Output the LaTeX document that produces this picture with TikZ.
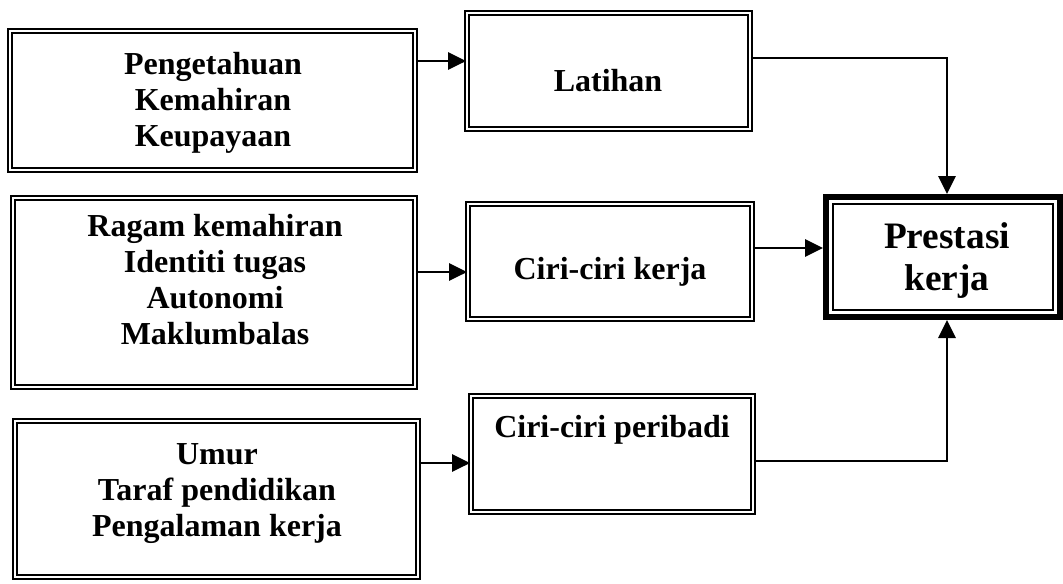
\documentclass[tikz,border=0pt]{standalone}
\usepackage{fontspec}
\setmainfont{Liberation Serif}
\usetikzlibrary{arrows.meta}
\begin{document}
\begin{tikzpicture}[x=0.75pt,y=-0.75pt,
  dbox/.style={draw, double, line width=1.4pt, double distance=1.5pt, inner sep=0pt},
  mainbox/.style={draw, line width=4.5pt, inner sep=0pt},
  innerbox/.style={draw, line width=1.3pt, inner sep=0pt},
  lbl/.style={align=center, inner sep=0pt, font=\bfseries\fontsize{24}{27}\selectfont},
  biglbl/.style={align=center, inner sep=0pt, font=\bfseries\fontsize{28}{31.5}\selectfont},
  arr/.style={line width=1.3pt, -{Triangle[length=13.5pt,width=13pt]}},
  ln/.style={line width=1.3pt}]
\useasboundingbox (0,0) rectangle (1063,583);

% left boxes
\node[dbox, minimum width=303.75pt, minimum height=104.25pt] (A) at (212.5,100.5) {};
\node[dbox, minimum width=301.5pt, minimum height=141.75pt] (B) at (214,292.5) {};
\node[dbox, minimum width=302.25pt, minimum height=117pt] (C) at (216.5,499) {};
% middle boxes
\node[dbox, minimum width=212.25pt, minimum height=87pt] (L) at (608.5,71) {};
\node[dbox, minimum width=213pt, minimum height=86.25pt] (K) at (610,261.5) {};
\node[dbox, minimum width=211.5pt, minimum height=87pt] (R) at (612,454) {};
% result box
\node[mainbox, minimum width=175.5pt, minimum height=90pt] (P) at (943,257) {};
\node[innerbox, minimum width=165pt, minimum height=79.5pt] (Pin) at (943,257) {};

% texts
\node[lbl] (tA) at (213,103) {Pengetahuan\\Kemahiran\\Keupayaan};
\node[lbl] (tB) at (215,280) {Ragam kemahiran\\Identiti tugas\\Autonomi\\Maklumbalas};
\node[lbl] (tC) at (217,493.5) {Umur\\Taraf pendidikan\\Pengalaman kerja};
\node[lbl] (tL) at (608,80.5) {Latihan};
\node[lbl] (tK) at (610,272) {Ciri-ciri kerja};
\node[lbl] (tR) at (612,430) {Ciri-ciri peribadi};
\node[biglbl] (tP) at (947,260.5) {Prestasi\\kerja};

% connector helper coordinates
\coordinate (ya) at (0,61);
\coordinate (yb) at (0,272);
\coordinate (yc) at (0,463);
\coordinate (c1) at (947,58);
\coordinate (c2) at (947,461);
\coordinate (yk) at (0,248);

\draw[arr] (A.east |- ya) -- (L.west |- ya);
\draw[arr] (B.east |- yb) -- (K.west |- yb);
\draw[arr] (C.east |- yc) -- (R.west |- yc);
\draw[arr] (K.east |- yk) -- (P.west |- yk);
\draw[arr] (L.east |- c1) -- (c1) -- (P.north -| c1);
\draw[arr] (R.east |- c2) -- (c2) -- (P.south -| c2);
\end{tikzpicture}
\end{document}
